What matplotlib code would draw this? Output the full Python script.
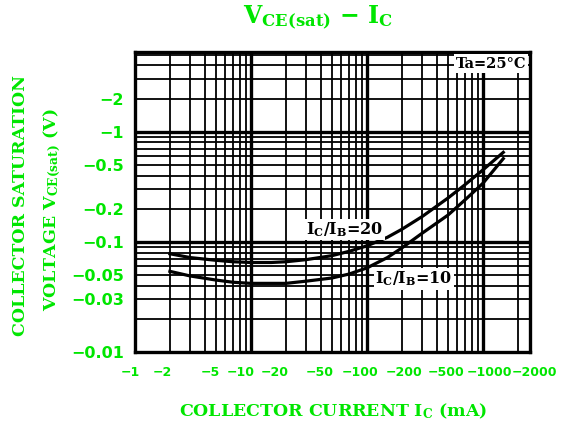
import matplotlib
matplotlib.use("Agg")
import matplotlib.pyplot as plt
import matplotlib.transforms as mtransforms
from matplotlib.ticker import LogLocator, NullFormatter

plt.rcParams['mathtext.fontset'] = 'dejavuserif'

GREEN = '#00e600'

# collector current (mA, magnitude) and VCE(sat) (V, magnitude)
ic = [2, 3, 5, 7, 10, 15, 20, 30, 50, 70, 100, 150, 200, 300, 500, 700, 1000, 1500]
vce_20 = [0.078, 0.072, 0.068, 0.066, 0.065, 0.065, 0.066, 0.069, 0.075, 0.082,
          0.092, 0.11, 0.13, 0.17, 0.25, 0.33, 0.45, 0.65]
vce_10 = [0.054, 0.049, 0.045, 0.043, 0.042, 0.042, 0.042, 0.044, 0.047, 0.051,
          0.058, 0.072, 0.088, 0.12, 0.175, 0.24, 0.34, 0.57]

xticks = [1, 2, 5, 10, 20, 50, 100, 200, 500, 1000, 2000]
xlabels = ['−1', '−2', '−5', '−10', '−20', '−50', '−100', '−200', '−500', '−1000', '−2000']
yticks = [2, 1, 0.5, 0.2, 0.1, 0.05, 0.03, 0.01]
ylabels = ['−2', '−1', '−0.5', '−0.2', '−0.1', '−0.05', '−0.03', '−0.01']

fig = plt.figure(figsize=(5.71, 4.32), dpi=100)
ax = fig.add_axes([135/571, 80/432, 395/571, 300/432])
ax.set_xscale('log')
ax.set_yscale('log')
ax.set_xlim(1, 2550)
ax.set_ylim(0.01, 5.3)

ax.set_xticks(xticks)
ax.set_xticklabels(xlabels)
ax.set_yticks(yticks)
ax.set_yticklabels(ylabels)

# graph-paper grid
ax.xaxis.set_minor_locator(LogLocator(base=10, subs=range(2, 10)))
ax.yaxis.set_minor_locator(LogLocator(base=10, subs=range(2, 10)))
ax.xaxis.set_minor_formatter(NullFormatter())
ax.yaxis.set_minor_formatter(NullFormatter())
ax.grid(which='both', color='black', lw=1.3)
for v in [10, 100, 1000]:
    ax.axvline(v, color='black', lw=2.4)
for v in [0.1, 1]:
    ax.axhline(v, color='black', lw=2.4)

ax.plot(ic, vce_20, color='black', lw=2.3)
ax.plot(ic, vce_10, color='black', lw=2.3)

ax.tick_params(which='both', length=0)
ax.tick_params(axis='x', pad=10, labelsize=9, labelcolor=GREEN)
ax.tick_params(axis='y', pad=8, labelsize=11.5, labelcolor=GREEN)
for lab in ax.get_xticklabels() + ax.get_yticklabels():
    lab.set_fontweight('bold')

# nudge crowded x labels like the original sheet
shifts = [-5, -8, -6, -10, -11, -12, -7, 2, -2, 7, 17]
for lab, dx in zip(ax.get_xticklabels(), shifts):
    off = mtransforms.ScaledTranslation(dx / 100, 0, fig.dpi_scale_trans)
    lab.set_transform(lab.get_transform() + off)

for s in ax.spines.values():
    s.set_linewidth(2.4)

txt = dict(family='DejaVu Serif', weight='bold', color='black', fontsize=11.5)
ax.text(30, 0.13, r'$\mathbf{I_C/I_B}$=20', ha='left', va='center',
        bbox=dict(facecolor='white', edgecolor='none', pad=1), **txt)
ax.text(118, 0.046, r'$\mathbf{I_C/I_B}$=10', ha='left', va='center',
        bbox=dict(facecolor='white', edgecolor='none', pad=1), **txt)
ax.text(0.99, 0.985, 'Ta=25°C', transform=ax.transAxes, ha='right', va='top',
        bbox=dict(facecolor='white', edgecolor='none', pad=1.5),
        family='DejaVu Serif', weight='bold', fontsize=10.5)

lab_style = dict(family='DejaVu Serif', weight='bold', color=GREEN)
fig.text(318/571, 1 - 18/432, r'$\mathbf{V_{CE(sat)}}$ − $\mathbf{I_C}$',
         ha='center', va='center', fontsize=17, **lab_style)
fig.text(333/571, 1 - 411/432, r'COLLECTOR CURRENT $\mathbf{I_C}$ (mA)',
         ha='center', va='center', fontsize=12.5, **lab_style)
fig.text(21/571, 1 - 206/432, 'COLLECTOR SATURATION', rotation=90,
         ha='center', va='center', fontsize=12.5, **lab_style)
fig.text(52/571, 1 - 210/432, r'VOLTAGE $\mathbf{V_{CE(sat)}}$ (V)', rotation=90,
         ha='center', va='center', fontsize=12.5, **lab_style)

fig.savefig('out.png', dpi=100)
